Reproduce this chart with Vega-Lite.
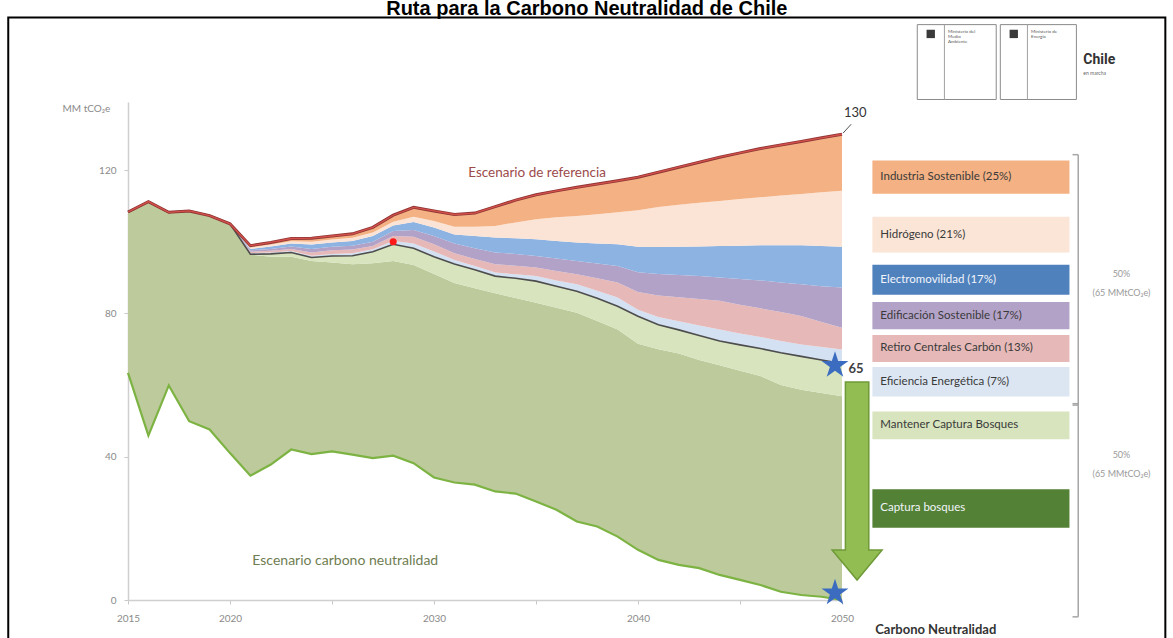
{
  "$schema": "https://vega.github.io/schema/vega-lite/v6.json",
  "width": 714,
  "height": 498,
  "autosize": {"type": "none"},
  "padding": {"left": 128, "top": 102, "right": 331, "bottom": 38},
  "background": "white",
  "title": {"text": "Ruta para la Carbono Neutralidad de Chile", "font": "Liberation Sans", "fontSize": 20, "fontWeight": "bold", "color": "#000000", "frame": "bounds", "anchor": "middle", "baseline": "alphabetic", "offset": -19},
  "config": {"view": {"stroke": null}, "font": "Lato"},
  "datasets": {
    "emisiones": [
      {"year": 2015, "ref": 108.3, "b_ind": 108.3, "b_hid": 108.3, "b_ele": 108.3, "b_edi": 108.3, "b_ret": 108.3, "neutral": 108.3, "b_man": 108.3, "net": 63.4},
      {"year": 2016, "ref": 111.2, "b_ind": 111.2, "b_hid": 111.2, "b_ele": 111.2, "b_edi": 111.2, "b_ret": 111.2, "neutral": 111.2, "b_man": 111.2, "net": 45.9},
      {"year": 2017, "ref": 108.2, "b_ind": 108.2, "b_hid": 108.2, "b_ele": 108.2, "b_edi": 108.2, "b_ret": 108.2, "neutral": 108.2, "b_man": 108.2, "net": 59.9},
      {"year": 2018, "ref": 108.6, "b_ind": 108.6, "b_hid": 108.6, "b_ele": 108.6, "b_edi": 108.6, "b_ret": 108.6, "neutral": 108.6, "b_man": 108.6, "net": 49.9},
      {"year": 2019, "ref": 107.3, "b_ind": 107.3, "b_hid": 107.3, "b_ele": 107.3, "b_edi": 107.3, "b_ret": 107.3, "neutral": 107.3, "b_man": 107.3, "net": 47.6},
      {"year": 2020, "ref": 105.0, "b_ind": 105.0, "b_hid": 105.0, "b_ele": 105.0, "b_edi": 105.0, "b_ret": 105.0, "neutral": 105.0, "b_man": 105.0, "net": 41.0},
      {"year": 2021, "ref": 98.9, "b_ind": 98.4, "b_hid": 98.0, "b_ele": 97.6, "b_edi": 97.2, "b_ret": 96.8, "neutral": 96.5, "b_man": 96.4, "net": 34.7},
      {"year": 2022, "ref": 99.8, "b_ind": 99.2, "b_hid": 98.7, "b_ele": 98.0, "b_edi": 97.5, "b_ret": 97.0, "neutral": 96.6, "b_man": 95.8, "net": 37.8},
      {"year": 2023, "ref": 100.9, "b_ind": 100.1, "b_hid": 99.5, "b_ele": 98.7, "b_edi": 98.0, "b_ret": 97.4, "neutral": 97.0, "b_man": 95.8, "net": 42.0},
      {"year": 2024, "ref": 101.0, "b_ind": 100.0, "b_hid": 99.2, "b_ele": 98.0, "b_edi": 97.0, "b_ret": 96.1, "neutral": 95.6, "b_man": 94.6, "net": 40.7},
      {"year": 2025, "ref": 101.6, "b_ind": 100.6, "b_hid": 99.8, "b_ele": 98.6, "b_edi": 97.6, "b_ret": 96.6, "neutral": 96.0, "b_man": 94.2, "net": 41.5},
      {"year": 2026, "ref": 102.2, "b_ind": 101.1, "b_hid": 100.2, "b_ele": 98.9, "b_edi": 97.8, "b_ret": 96.8, "neutral": 96.1, "b_man": 93.7, "net": 40.6},
      {"year": 2027, "ref": 104.0, "b_ind": 102.6, "b_hid": 101.6, "b_ele": 100.0, "b_edi": 98.8, "b_ret": 97.9, "neutral": 97.2, "b_man": 94.0, "net": 39.6},
      {"year": 2028, "ref": 107.4, "b_ind": 105.6, "b_hid": 104.5, "b_ele": 103.0, "b_edi": 101.6, "b_ret": 100.2, "neutral": 99.3, "b_man": 94.6, "net": 40.3},
      {"year": 2029, "ref": 109.6, "b_ind": 107.0, "b_hid": 105.5, "b_ele": 103.3, "b_edi": 101.4, "b_ret": 99.5, "neutral": 98.2, "b_man": 93.5, "net": 38.2},
      {"year": 2030, "ref": 108.6, "b_ind": 105.8, "b_hid": 104.0, "b_ele": 101.6, "b_edi": 99.3, "b_ret": 97.3, "neutral": 95.8, "b_man": 91.0, "net": 34.2},
      {"year": 2031, "ref": 107.6, "b_ind": 104.2, "b_hid": 102.0, "b_ele": 99.5, "b_edi": 96.8, "b_ret": 94.9, "neutral": 93.8, "b_man": 88.5, "net": 32.8},
      {"year": 2032, "ref": 108.0, "b_ind": 104.2, "b_hid": 101.6, "b_ele": 98.2, "b_edi": 95.2, "b_ret": 93.2, "neutral": 92.2, "b_man": 87.0, "net": 32.2},
      {"year": 2033, "ref": 109.8, "b_ind": 104.4, "b_hid": 101.2, "b_ele": 97.0, "b_edi": 93.7, "b_ret": 91.4, "neutral": 90.4, "b_man": 85.6, "net": 30.3},
      {"year": 2034, "ref": 111.6, "b_ind": 105.4, "b_hid": 101.0, "b_ele": 96.6, "b_edi": 93.3, "b_ret": 90.9, "neutral": 89.8, "b_man": 84.3, "net": 29.7},
      {"year": 2035, "ref": 113.1, "b_ind": 106.3, "b_hid": 100.7, "b_ele": 96.0, "b_edi": 92.8, "b_ret": 90.4, "neutral": 89.0, "b_man": 83.0, "net": 27.5},
      {"year": 2036, "ref": 114.2, "b_ind": 106.8, "b_hid": 100.2, "b_ele": 95.3, "b_edi": 91.8, "b_ret": 89.2, "neutral": 87.6, "b_man": 81.6, "net": 25.2},
      {"year": 2037, "ref": 115.2, "b_ind": 107.2, "b_hid": 99.8, "b_ele": 94.6, "b_edi": 90.9, "b_ret": 88.1, "neutral": 86.2, "b_man": 80.2, "net": 21.9},
      {"year": 2038, "ref": 116.1, "b_ind": 107.7, "b_hid": 99.5, "b_ele": 93.9, "b_edi": 89.8, "b_ret": 86.3, "neutral": 84.2, "b_man": 77.9, "net": 20.5},
      {"year": 2039, "ref": 117.0, "b_ind": 108.2, "b_hid": 99.3, "b_ele": 93.2, "b_edi": 88.6, "b_ret": 84.4, "neutral": 82.0, "b_man": 75.5, "net": 17.7},
      {"year": 2040, "ref": 118.0, "b_ind": 108.8, "b_hid": 98.6, "b_ele": 91.5, "b_edi": 86.0, "b_ret": 81.0, "neutral": 79.2, "b_man": 71.5, "net": 14.0},
      {"year": 2041, "ref": 119.4, "b_ind": 109.7, "b_hid": 98.5, "b_ele": 91.0, "b_edi": 85.0, "b_ret": 79.0, "neutral": 76.8, "b_man": 70.0, "net": 11.2},
      {"year": 2042, "ref": 120.8, "b_ind": 110.3, "b_hid": 98.6, "b_ele": 90.7, "b_edi": 84.5, "b_ret": 77.8, "neutral": 75.4, "b_man": 68.8, "net": 9.8},
      {"year": 2043, "ref": 122.2, "b_ind": 110.9, "b_hid": 98.7, "b_ele": 90.4, "b_edi": 84.0, "b_ret": 76.6, "neutral": 73.8, "b_man": 67.0, "net": 8.9},
      {"year": 2044, "ref": 123.6, "b_ind": 111.4, "b_hid": 98.8, "b_ele": 90.0, "b_edi": 83.5, "b_ret": 75.5, "neutral": 72.3, "b_man": 65.5, "net": 7.0},
      {"year": 2045, "ref": 124.8, "b_ind": 111.9, "b_hid": 98.9, "b_ele": 89.6, "b_edi": 82.4, "b_ret": 74.4, "neutral": 71.2, "b_man": 64.0, "net": 5.6},
      {"year": 2046, "ref": 126.0, "b_ind": 112.4, "b_hid": 99.0, "b_ele": 89.2, "b_edi": 81.4, "b_ret": 73.4, "neutral": 70.2, "b_man": 62.5, "net": 4.2},
      {"year": 2047, "ref": 127.0, "b_ind": 112.9, "b_hid": 99.0, "b_ele": 88.6, "b_edi": 80.4, "b_ret": 72.3, "neutral": 69.0, "b_man": 60.0, "net": 2.3},
      {"year": 2048, "ref": 128.0, "b_ind": 113.3, "b_hid": 99.0, "b_ele": 88.1, "b_edi": 79.3, "b_ret": 71.3, "neutral": 68.0, "b_man": 58.7, "net": 1.4},
      {"year": 2049, "ref": 129.0, "b_ind": 113.8, "b_hid": 98.8, "b_ele": 87.6, "b_edi": 77.6, "b_ret": 70.6, "neutral": 67.0, "b_man": 57.8, "net": 0.9},
      {"year": 2050, "ref": 130.0, "b_ind": 114.2, "b_hid": 98.6, "b_ele": 87.2, "b_edi": 76.0, "b_ret": 69.9, "neutral": 66.0, "b_man": 56.9, "net": 0.0}
    ],
    "leyenda": [
      {"label": "Industria Sostenible (25%)", "lo": 113.4, "hi": 122.7},
      {"label": "Hidrógeno (21%)", "lo": 97.0, "hi": 107.0},
      {"label": "Electromovilidad (17%)", "lo": 85.2, "hi": 93.6},
      {"label": "Edificación Sostenible (17%)", "lo": 75.6, "hi": 83.2},
      {"label": "Retiro Centrales Carbón (13%)", "lo": 66.4, "hi": 74.0},
      {"label": "Eficiencia Energética (7%)", "lo": 56.8, "hi": 65.0},
      {"label": "Mantener Captura Bosques", "lo": 44.9, "hi": 52.6},
      {"label": "Captura bosques", "lo": 20.2, "hi": 30.9}
    ],
    "corchetes": [
      {"tramo": "Reducción de emisiones", "lo": 54.4, "hi": 124.3},
      {"tramo": "Captura", "lo": -4.7, "hi": 54.8}
    ],
    "hitos": [
      {"year": 2050, "valor": 65.5, "etiqueta": "65"},
      {"year": 2050, "valor": 2.0, "etiqueta": ""}
    ]
  },
  "layer": [
    {
      "data": {"name": "emisiones"},
      "mark": {"type": "area", "color": "#bdca9c"},
      "encoding": {
        "x": {"field": "year", "type": "quantitative", "scale": {"domain": [2015, 2050], "nice": false, "zero": false},
              "axis": {"title": null, "values": [2015, 2020, 2025, 2030, 2035, 2040, 2045, 2050], "format": "d",
                       "labelExpr": "datum.value == 2025 || datum.value == 2035 || datum.value == 2045 ? '' : datum.label",
                       "labelColor": "#8a8a8a", "labelFontSize": 10, "labelPadding": 9, "tickSize": 4, "tickColor": "#c8c8c8",
                       "domainColor": "#cfcfcf", "domainWidth": 1.5, "grid": false, "labelFlush": false}},
        "y": {"field": "net", "type": "quantitative", "scale": {"domain": [0, 139], "nice": false, "zero": false},
              "axis": {"title": "MM tCO₂e", "values": [0, 40, 80, 120], "titleAngle": 0, "titleAlign": "left", "titleBaseline": "middle",
                       "titleX": -66, "titleY": 6, "titleFontSize": 10, "titleFontWeight": "normal", "titleColor": "#8a8a8a",
                       "labelColor": "#8a8a8a", "labelFontSize": 10, "labelPadding": 8, "tickSize": 4, "tickColor": "#c8c8c8",
                       "domainColor": "#cfcfcf", "domainWidth": 1.5, "grid": false}},
        "y2": {"field": "b_man"}
      }
    },
    {"data": {"name": "emisiones"}, "mark": {"type": "area", "color": "#d7e4bd"},
     "encoding": {"x": {"field": "year", "type": "quantitative"}, "y": {"field": "b_man", "type": "quantitative"}, "y2": {"field": "neutral"}}},
    {"data": {"name": "emisiones"}, "mark": {"type": "area", "color": "#d3e1f3"},
     "encoding": {"x": {"field": "year", "type": "quantitative"}, "y": {"field": "neutral", "type": "quantitative"}, "y2": {"field": "b_ret"}}},
    {"data": {"name": "emisiones"}, "mark": {"type": "area", "color": "#e6b9b8"},
     "encoding": {"x": {"field": "year", "type": "quantitative"}, "y": {"field": "b_ret", "type": "quantitative"}, "y2": {"field": "b_edi"}}},
    {"data": {"name": "emisiones"}, "mark": {"type": "area", "color": "#b3a2c7"},
     "encoding": {"x": {"field": "year", "type": "quantitative"}, "y": {"field": "b_edi", "type": "quantitative"}, "y2": {"field": "b_ele"}}},
    {"data": {"name": "emisiones"}, "mark": {"type": "area", "color": "#8db3e2"},
     "encoding": {"x": {"field": "year", "type": "quantitative"}, "y": {"field": "b_ele", "type": "quantitative"}, "y2": {"field": "b_hid"}}},
    {"data": {"name": "emisiones"}, "mark": {"type": "area", "color": "#fbe4d5"},
     "encoding": {"x": {"field": "year", "type": "quantitative"}, "y": {"field": "b_hid", "type": "quantitative"}, "y2": {"field": "b_ind"}}},
    {"data": {"name": "emisiones"}, "mark": {"type": "area", "color": "#f4b183"},
     "encoding": {"x": {"field": "year", "type": "quantitative"}, "y": {"field": "b_ind", "type": "quantitative"}, "y2": {"field": "ref"}}},
    {"data": {"name": "emisiones"}, "mark": {"type": "line", "color": "#4d4d4d", "strokeWidth": 1.6},
     "encoding": {"x": {"field": "year", "type": "quantitative"}, "y": {"field": "neutral", "type": "quantitative"}}},
    {"data": {"name": "emisiones"}, "mark": {"type": "line", "color": "#7cb342", "strokeWidth": 2.2},
     "encoding": {"x": {"field": "year", "type": "quantitative"}, "y": {"field": "net", "type": "quantitative"}}},
    {"data": {"name": "emisiones"}, "mark": {"type": "line", "color": "#8f3633", "strokeWidth": 3},
     "encoding": {"x": {"field": "year", "type": "quantitative"}, "y": {"field": "ref", "type": "quantitative"}}},
    {"data": {"name": "emisiones"}, "mark": {"type": "line", "color": "#d4504c", "strokeWidth": 1.3},
     "encoding": {"x": {"field": "year", "type": "quantitative"}, "y": {"field": "ref", "type": "quantitative"}}},
    {"data": {"values": [{}]}, "mark": {"type": "rect", "filled": false, "stroke": "#000000", "strokeWidth": 2},
     "encoding": {"x": {"datum": 2009.13}, "x2": {"datum": 2065.85}, "y": {"datum": 162.6}, "y2": {"datum": -12}}},
    {"data": {"name": "leyenda"}, "mark": {"type": "rect"},
     "encoding": {"x": {"datum": 2051.49}, "x2": {"datum": 2061.15}, "y": {"field": "hi", "type": "quantitative"}, "y2": {"field": "lo"},
                  "color": {"field": "label", "type": "nominal", "legend": null,
                            "scale": {"domain": ["Industria Sostenible (25%)", "Hidrógeno (21%)", "Electromovilidad (17%)", "Edificación Sostenible (17%)", "Retiro Centrales Carbón (13%)", "Eficiencia Energética (7%)", "Mantener Captura Bosques", "Captura bosques"],
                                      "range": ["#f4b183", "#fbe5d6", "#4f81bd", "#b3a2c7", "#e6b9b8", "#dce6f2", "#d7e4bd", "#538135"]}}}},
    {"data": {"name": "leyenda"}, "transform": [{"fold": ["lo", "hi"], "as": ["limite", "v"]}],
     "mark": {"type": "text", "align": "left", "baseline": "middle", "fontSize": 11.5, "font": "Lato"},
     "encoding": {"x": {"datum": 2051.88}, "y": {"field": "v", "aggregate": "mean", "type": "quantitative"},
                  "text": {"field": "label", "type": "nominal"},
                  "color": {"condition": {"test": "datum.label === 'Electromovilidad (17%)' || datum.label === 'Captura bosques'", "value": "#f2f5fb"}, "value": "#3a3a3a"}}},
    {"data": {"name": "corchetes"}, "mark": {"type": "rule", "color": "#a6a6a6", "strokeWidth": 1.5},
     "encoding": {"x": {"datum": 2061.58}, "y": {"field": "hi", "type": "quantitative"}, "y2": {"field": "lo"}}},
    {"data": {"name": "corchetes"}, "mark": {"type": "rule", "color": "#a6a6a6", "strokeWidth": 1.5},
     "encoding": {"x": {"datum": 2061.3}, "x2": {"datum": 2061.58}, "y": {"field": "hi", "type": "quantitative"}}},
    {"data": {"name": "corchetes"}, "mark": {"type": "rule", "color": "#a6a6a6", "strokeWidth": 1.5},
     "encoding": {"x": {"datum": 2061.3}, "x2": {"datum": 2061.58}, "y": {"field": "lo", "type": "quantitative"}}},
    {"data": {"values": [{}]}, "mark": {"type": "text", "text": ["50%", "(65 MMtCO₂e)"], "align": "center", "baseline": "middle", "fontSize": 9, "lineHeight": 19, "color": "#9a9a9a"},
     "encoding": {"x": {"datum": 2063.7}, "y": {"datum": 91}}},
    {"data": {"values": [{}]}, "mark": {"type": "text", "text": ["50%", "(65 MMtCO₂e)"], "align": "center", "baseline": "middle", "fontSize": 9, "lineHeight": 19, "color": "#9a9a9a"},
     "encoding": {"x": {"datum": 2063.7}, "y": {"datum": 40.4}}},
    {"data": {"values": [{}]}, "mark": {"type": "text", "text": "Escenario de referencia", "align": "center", "baseline": "middle", "fontSize": 13.5, "color": "#9c4b4b"},
     "encoding": {"x": {"datum": 2035.05}, "y": {"datum": 119.2}}},
    {"data": {"values": [{}]}, "mark": {"type": "text", "text": "Escenario carbono neutralidad", "align": "center", "baseline": "middle", "fontSize": 14, "color": "#6f7d52"},
     "encoding": {"x": {"datum": 2025.65}, "y": {"datum": 10.9}}},
    {"data": {"values": [{}]}, "mark": {"type": "rule", "color": "#555555", "strokeWidth": 1},
     "encoding": {"x": {"datum": 2050.05}, "x2": {"datum": 2050.45}, "y": {"datum": 130.3}, "y2": {"datum": 132.8}}},
    {"data": {"values": [{}]}, "mark": {"type": "text", "text": "130", "align": "center", "baseline": "middle", "fontSize": 13, "color": "#333333"},
     "encoding": {"x": {"datum": 2050.65}, "y": {"datum": 135.8}}},
    {"data": {"values": [{}]}, "mark": {"type": "point", "filled": true, "opacity": 1, "color": "#92bd52", "stroke": "#6f9a38", "strokeWidth": 1.5, "size": 40000,
                                         "shape": "M-0.117,-0.99L0.117,-0.99L0.117,0.69L0.25,0.69L0,0.99L-0.25,0.69L-0.117,0.69Z"},
     "encoding": {"x": {"datum": 2050.74}, "y": {"datum": 33.2}}},
    {"data": {"name": "hitos"}, "mark": {"type": "point", "filled": true, "opacity": 1, "color": "#3b6cc0", "size": 800, "xOffset": -7,
                                         "shape": "M0,-1L0.2245,-0.309L0.951,-0.309L0.363,0.118L0.588,0.809L0,0.382L-0.588,0.809L-0.363,0.118L-0.951,-0.309L-0.2245,-0.309Z"},
     "encoding": {"x": {"field": "year", "type": "quantitative"}, "y": {"field": "valor", "type": "quantitative"}}},
    {"data": {"name": "hitos"}, "mark": {"type": "text", "align": "center", "baseline": "middle", "fontSize": 13, "fontWeight": "bold", "color": "#404040", "dx": 14, "dy": 4},
     "encoding": {"x": {"field": "year", "type": "quantitative"}, "y": {"field": "valor", "type": "quantitative"}, "text": {"field": "etiqueta"}}},
    {"data": {"values": [{}]}, "mark": {"type": "point", "filled": true, "opacity": 1, "color": "#ff1a1a", "size": 50},
     "encoding": {"x": {"datum": 2028}, "y": {"datum": 100}}},
    {"data": {"values": [{}]}, "mark": {"type": "text", "text": "Carbono Neutralidad", "align": "left", "baseline": "middle", "fontSize": 13, "fontWeight": "bold", "color": "#333333"},
     "encoding": {"x": {"datum": 2051.63}, "y": {"datum": -8.4}}},
    {"data": {"values": [{}]}, "mark": {"type": "rect", "filled": false, "stroke": "#8a8a8a", "strokeWidth": 1},
     "encoding": {"x": {"datum": 2053.69}, "x2": {"datum": 2057.56}, "y": {"datum": 160.6}, "y2": {"datum": 139.7}}},
    {"data": {"values": [{}]}, "mark": {"type": "rect", "filled": false, "stroke": "#8a8a8a", "strokeWidth": 1},
     "encoding": {"x": {"datum": 2057.76}, "x2": {"datum": 2061.49}, "y": {"datum": 160.6}, "y2": {"datum": 139.7}}},
    {"data": {"values": [{}]}, "mark": {"type": "rule", "color": "#a0a0a0", "strokeWidth": 1},
     "encoding": {"x": {"datum": 2055.02}, "y": {"datum": 160.6}, "y2": {"datum": 139.7}}},
    {"data": {"values": [{}]}, "mark": {"type": "rule", "color": "#a0a0a0", "strokeWidth": 1},
     "encoding": {"x": {"datum": 2059.09}, "y": {"datum": 160.6}, "y2": {"datum": 139.7}}},
    {"data": {"values": [{}]}, "mark": {"type": "point", "filled": true, "opacity": 1, "color": "#3a3a3a", "size": 70, "shape": "square"},
     "encoding": {"x": {"datum": 2054.35}, "y": {"datum": 158.0}}},
    {"data": {"values": [{}]}, "mark": {"type": "point", "filled": true, "opacity": 1, "color": "#3a3a3a", "size": 70, "shape": "square"},
     "encoding": {"x": {"datum": 2058.42}, "y": {"datum": 158.0}}},
    {"data": {"values": [{}]}, "mark": {"type": "text", "text": ["Ministerio del", "Medio", "Ambiente"], "align": "left", "baseline": "top", "fontSize": 4.5, "lineHeight": 5, "color": "#555555"},
     "encoding": {"x": {"datum": 2055.2}, "y": {"datum": 159.4}}},
    {"data": {"values": [{}]}, "mark": {"type": "text", "text": ["Ministerio de", "Energía"], "align": "left", "baseline": "top", "fontSize": 4.5, "lineHeight": 5, "color": "#555555"},
     "encoding": {"x": {"datum": 2059.27}, "y": {"datum": 159.4}}},
    {"data": {"values": [{}]}, "mark": {"type": "text", "text": "Chile", "align": "left", "baseline": "middle", "fontSize": 14, "fontWeight": "bold", "font": "Roboto", "color": "#333333"},
     "encoding": {"x": {"datum": 2061.83}, "y": {"datum": 150.6}}},
    {"data": {"values": [{}]}, "mark": {"type": "text", "text": "en marcha", "align": "left", "baseline": "middle", "fontSize": 5, "color": "#666666"},
     "encoding": {"x": {"datum": 2061.83}, "y": {"datum": 147.0}}}
  ]
}
